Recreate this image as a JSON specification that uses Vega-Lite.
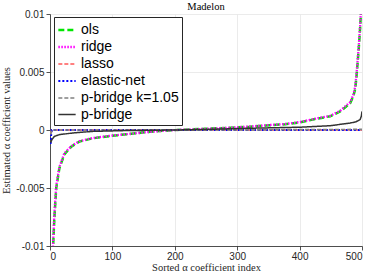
{
  "$schema": "https://vega.github.io/schema/vega-lite/v6.json",
  "autosize": {"type": "none"},
  "padding": {"left": 50, "top": 14, "right": 9, "bottom": 27},
  "width": 312,
  "height": 232,
  "background": "white",
  "title": {"text": "Madelon", "font": "Liberation Serif", "fontSize": 10.5, "fontWeight": "normal", "color": "#000000", "offset": 3, "dy": 6, "anchor": "middle", "frame": "group"},
  "config": {
    "view": {"stroke": null},
    "axis": {"domainColor": "#262626", "tickColor": "#262626", "labelColor": "#262626", "labelFont": "Liberation Sans", "labelFontSize": 10, "titleFont": "Liberation Serif", "titleFontSize": 10.5, "titleFontWeight": "normal", "titleColor": "#262626", "gridColor": "#e6e6e6", "gridWidth": 0.8, "domainWidth": 0.8, "tickWidth": 0.8}
  },
  "data": {"values": [
    {"s":"ols","x":1,"y":-0.03},{"s":"ols","x":3,"y":-0.014},{"s":"ols","x":5,"y":-0.01},{"s":"ols","x":7,"y":-0.0076},{"s":"ols","x":10,"y":-0.005},{"s":"ols","x":15,"y":-0.0033},{"s":"ols","x":23,"y":-0.0021},{"s":"ols","x":34,"y":-0.00144},{"s":"ols","x":47,"y":-0.001},{"s":"ols","x":68,"y":-0.00072},{"s":"ols","x":99,"y":-0.0005},{"s":"ols","x":130,"y":-0.00033},{"s":"ols","x":152,"y":-0.0002},{"s":"ols","x":184,"y":-0.00006},{"s":"ols","x":210,"y":0.00002},{"s":"ols","x":250,"y":0.0001},{"s":"ols","x":290,"y":0.0002},{"s":"ols","x":320,"y":0.00028},{"s":"ols","x":350,"y":0.0004},{"s":"ols","x":377,"y":0.0005},{"s":"ols","x":400,"y":0.00065},{"s":"ols","x":430,"y":0.001},{"s":"ols","x":449,"y":0.00118},{"s":"ols","x":465,"y":0.0016},{"s":"ols","x":481,"y":0.0023},{"s":"ols","x":486,"y":0.0029},{"s":"ols","x":489,"y":0.0035},{"s":"ols","x":491,"y":0.0045},{"s":"ols","x":493,"y":0.0058},{"s":"ols","x":495,"y":0.0072},{"s":"ols","x":497,"y":0.0088},{"s":"ols","x":498,"y":0.0098},{"s":"ols","x":499,"y":0.011},{"s":"ols","x":500,"y":0.02},
    {"s":"ridge","x":1,"y":-0.03},{"s":"ridge","x":3,"y":-0.0135},{"s":"ridge","x":5,"y":-0.0097},{"s":"ridge","x":7,"y":-0.0073},{"s":"ridge","x":10,"y":-0.0048},{"s":"ridge","x":15,"y":-0.0032},{"s":"ridge","x":23,"y":-0.002},{"s":"ridge","x":34,"y":-0.0014},{"s":"ridge","x":47,"y":-0.00097},{"s":"ridge","x":68,"y":-0.0007},{"s":"ridge","x":99,"y":-0.00048},{"s":"ridge","x":130,"y":-0.00032},{"s":"ridge","x":152,"y":-0.0002},{"s":"ridge","x":184,"y":-0.00006},{"s":"ridge","x":210,"y":0.00002},{"s":"ridge","x":250,"y":0.0001},{"s":"ridge","x":290,"y":0.0002},{"s":"ridge","x":320,"y":0.0003},{"s":"ridge","x":350,"y":0.00042},{"s":"ridge","x":377,"y":0.00052},{"s":"ridge","x":400,"y":0.00068},{"s":"ridge","x":430,"y":0.00103},{"s":"ridge","x":449,"y":0.00122},{"s":"ridge","x":465,"y":0.00165},{"s":"ridge","x":481,"y":0.0024},{"s":"ridge","x":486,"y":0.003},{"s":"ridge","x":489,"y":0.0037},{"s":"ridge","x":491,"y":0.0047},{"s":"ridge","x":493,"y":0.006},{"s":"ridge","x":495,"y":0.0074},{"s":"ridge","x":497,"y":0.009},{"s":"ridge","x":498,"y":0.01},{"s":"ridge","x":499,"y":0.0112},{"s":"ridge","x":500,"y":0.02},
    {"s":"lasso","x":1,"y":-0.0003},{"s":"lasso","x":3,"y":0},{"s":"lasso","x":250,"y":0},{"s":"lasso","x":500,"y":0},
    {"s":"elastic-net","x":1,"y":-0.0012},{"s":"elastic-net","x":2,"y":-0.0003},{"s":"elastic-net","x":3,"y":0},{"s":"elastic-net","x":250,"y":0},{"s":"elastic-net","x":500,"y":0},
    {"s":"p-bridge k=1.05","x":1,"y":-0.0004},{"s":"p-bridge k=1.05","x":3,"y":0},{"s":"p-bridge k=1.05","x":250,"y":0},{"s":"p-bridge k=1.05","x":500,"y":0.00005},
    {"s":"p-bridge","x":1,"y":-0.0011},{"s":"p-bridge","x":3,"y":-0.00084},{"s":"p-bridge","x":7,"y":-0.00055},{"s":"p-bridge","x":15,"y":-0.0004},{"s":"p-bridge","x":36,"y":-0.00026},{"s":"p-bridge","x":68,"y":-0.00012},{"s":"p-bridge","x":120,"y":-0.00005},{"s":"p-bridge","x":200,"y":0},{"s":"p-bridge","x":250,"y":0.00005},{"s":"p-bridge","x":320,"y":0.00015},{"s":"p-bridge","x":400,"y":0.00024},{"s":"p-bridge","x":449,"y":0.00037},{"s":"p-bridge","x":481,"y":0.0006},{"s":"p-bridge","x":490,"y":0.0007},{"s":"p-bridge","x":497,"y":0.0009},{"s":"p-bridge","x":499,"y":0.0012},{"s":"p-bridge","x":500,"y":0.0016}
  ]},
  "mark": {"type": "line", "clip": true},
  "encoding": {
    "x": {"field": "x", "type": "quantitative", "scale": {"domain": [0, 500], "nice": false}, "axis": {"values": [0, 100, 200, 300, 400, 500], "title": "Sorted α coefficient index", "tickSize": 4, "labelPadding": 1, "titlePadding": 1}},
    "y": {"field": "y", "type": "quantitative", "scale": {"domain": [-0.01, 0.01], "nice": false}, "axis": {"values": [-0.01, -0.005, 0, 0.005, 0.01], "labelExpr": "datum.value == 0 ? '0' : (datum.value < 0 ? '-' : '') + format(abs(datum.value), '~g')", "title": "Estimated α coefficient values", "tickSize": 4, "labelPadding": 2, "titlePadding": 4}},
    "color": {"field": "s", "type": "nominal", "sort": null, "scale": {"domain": ["ols", "ridge", "lasso", "elastic-net", "p-bridge k=1.05", "p-bridge"], "range": ["#00e600", "#ff00ff", "#ff8080", "#0000ff", "#808080", "#333333"]}, "legend": {"title": null, "orient": "none", "legendX": 4, "legendY": 3, "symbolType": "stroke", "symbolSize": 300, "labelFont": "Liberation Sans", "labelFontSize": 14, "labelColor": "#000000", "rowPadding": 0, "padding": 3, "labelOffset": 4, "strokeColor": "#262626", "fillColor": "white", "symbolStrokeWidth": 1.5}},
    "strokeDash": {"field": "s", "type": "nominal", "sort": null, "scale": {"domain": ["ols", "ridge", "lasso", "elastic-net", "p-bridge k=1.05", "p-bridge"], "range": [[6, 3], [1.5, 1.5], [4, 2], [2, 2], [4, 2], [1, 0]]}, "legend": {"title": null}},
    "strokeWidth": {"field": "s", "type": "nominal", "sort": null, "scale": {"domain": ["ols", "ridge", "lasso", "elastic-net", "p-bridge k=1.05", "p-bridge"], "range": [2.5, 1.5, 1, 2.5, 1, 0.8]}, "legend": null}
  }
}
